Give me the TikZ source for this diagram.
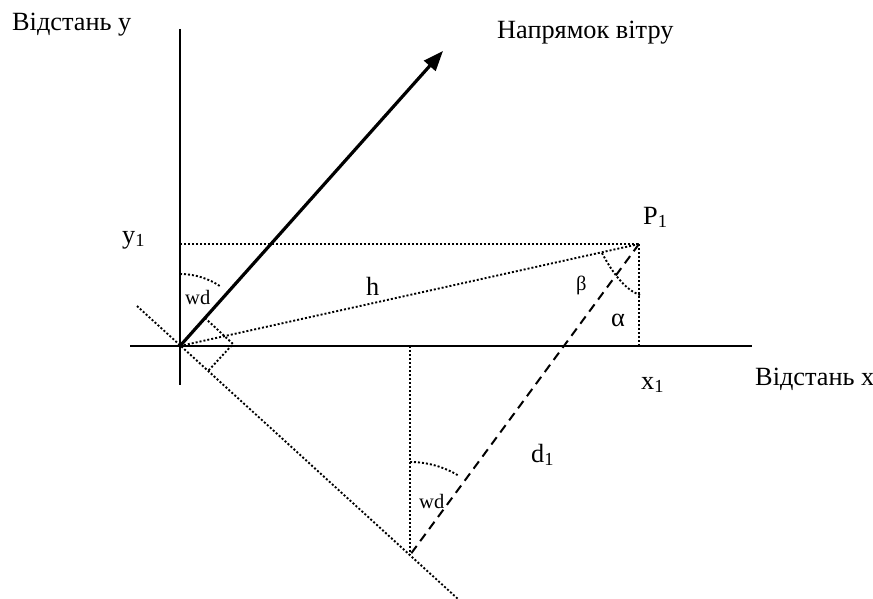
\documentclass[tikz,border=0pt]{standalone}
\usepackage{fontspec}
\setmainfont{Liberation Serif}
\usetikzlibrary{arrows.meta}
\begin{document}
\begin{tikzpicture}[x=1pt,y=-1pt,
  axisline/.style={line width=2pt},
  windarrow/.style={line width=3.2pt,-{Triangle[length=20pt,width=15pt]}},
  dotline/.style={line width=1.9pt,dash pattern=on 2pt off 2pt},
  dashline/.style={line width=2pt,dash pattern=on 9pt off 6pt},
  lbl/.style={inner sep=0pt,anchor=base west,font=\fontsize{26.3}{30}\selectfont},
  smalllbl/.style={inner sep=0pt,anchor=base west,font=\fontsize{20.5}{24}\selectfont}]
\useasboundingbox (0,0) rectangle (873,599);
% key points
\coordinate (O) at (180,346);
\coordinate (W) at (443,51);
\coordinate (P) at (639,244);
\coordinate (Y1) at (180,244);
\coordinate (X1) at (639,346);
\coordinate (D) at (410,555);
\coordinate (Dtop) at (410,346);
\coordinate (Yt) at (180,29);
\coordinate (Yb) at (180,385);
\coordinate (Xl) at (130,346);
\coordinate (Xr) at (752,346);
\coordinate (Pu) at (137,306);
\coordinate (Pd) at (458,599);
% axes
\draw[axisline] (Yt) -- (Yb);
\draw[axisline] (Xl) -- (Xr);
% dotted construction lines
\draw[dotline] (Y1) -- (P);
\draw[dotline] (P) -- (X1);
\draw[dotline] (O) -- (P);
\draw[dotline] (Pu) -- (Pd);
\draw[dotline] (Dtop) -- (D);
% right angle marker at origin
\coordinate (RA1) at (205,318);
\coordinate (RA2) at (233,344);
\coordinate (RA3) at (208,371);
\draw[dotline] (RA1) -- (RA2) -- (RA3);
% angle arcs
\draw[dotline] (O) ++(-90:72) arc[start angle=-90,end angle=-56,radius=72];
\draw[dotline] (D) ++(-90:93) arc[start angle=-90,end angle=-59,radius=93];
\coordinate (B1) at (602,253);
\coordinate (B2) at (640,295);
\draw[dotline] (B1) .. controls (612,272) and (625,290) .. (B2);
% d1 dashed
\draw[dashline] (P) -- (D);
% wind arrow
\draw[windarrow] (O) -- (W);
% labels
\node[lbl] (ly) at (12,31) {Відстань у};
\node[lbl] (lw) at (497,39) {Напрямок вітру};
\node[lbl] (lx) at (755,385) {Відстань x};
\node[lbl] (ly1) at (122,243) {y\textsubscript{1}};
\node[lbl] (lp1) at (643,224) {P\textsubscript{1}};
\node[lbl] (lx1) at (641,389) {x\textsubscript{1}};
\node[lbl] (lh) at (366,295) {h};
\node[lbl] (ld1) at (531,462) {d\textsubscript{1}};
\node[smalllbl] (lwd1) at (185,304) {wd};
\node[smalllbl] (lwd2) at (419,508) {wd};
\node[smalllbl] (lb) at (576,290) {β};
\node[lbl] (la) at (611,326) {α};
\end{tikzpicture}
\end{document}
